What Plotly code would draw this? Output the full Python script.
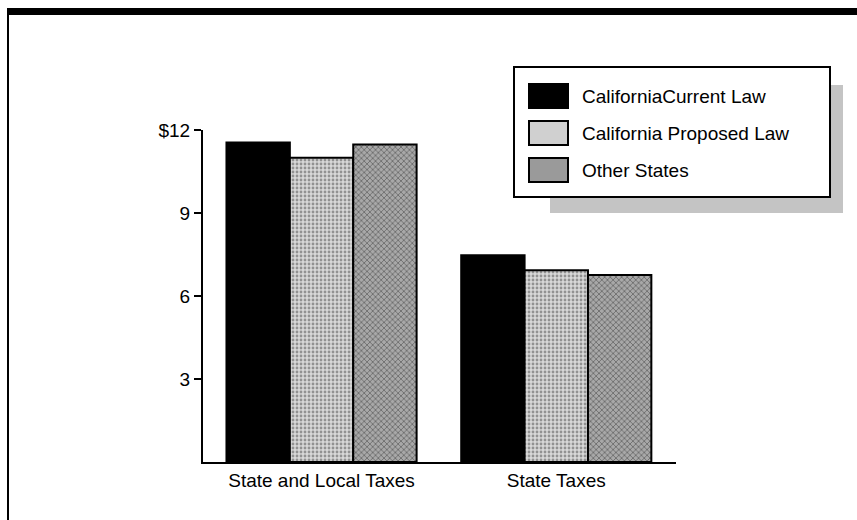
import plotly.graph_objects as go

categories = ["State and Local Taxes", "State Taxes"]
series_names = ["CaliforniaCurrent Law", "California Proposed Law", "Other States"]
ca_current = [11.55, 7.47]
ca_proposed = [11.0, 6.93]
other_states = [11.48, 6.76]
y_tickvals = [3, 6, 9, 12]
y_ticktext = ["3", "6", "9", "$12"]

W, H = 857, 520
L, R, T, B = 203, 181, 130, 58
PW, PH = W - L - R, H - T - B

def px(x):
    return (x - L) / PW

def py(y):
    return (H - B - y) / PH

styles = [
    dict(color="black", pattern=None),
    dict(color="#d6d6d6", pattern=dict(shape=".", fgcolor="#4a4a4a", bgcolor="#d8d8d8", size=4, solidity=0.4)),
    dict(color="#a0a0a0", pattern=dict(shape="x", fgcolor="#1e1e1e", bgcolor="#a8a8a8", size=4, solidity=0.35)),
]

fig = go.Figure()
for name, vals, st in zip(series_names, [ca_current, ca_proposed, other_states], styles):
    marker = dict(color=st["color"], line=dict(color="black", width=2))
    if st["pattern"]:
        marker["pattern"] = st["pattern"]
    fig.add_trace(go.Bar(x=categories, y=vals, name=name, marker=marker, showlegend=False))

shapes = []
# page frame: thick top rule and left rule
shapes.append(dict(type="rect", xref="paper", yref="paper", x0=px(7), x1=px(857), y0=py(15), y1=py(8),
                   fillcolor="black", line=dict(width=0), layer="above"))
shapes.append(dict(type="line", xref="paper", yref="paper", x0=px(8), x1=px(8), y0=py(8), y1=py(520),
                   line=dict(color="black", width=2)))
# legend shadow
shapes.append(dict(type="rect", xref="paper", yref="paper", x0=px(550), x1=px(843), y0=py(213), y1=py(85),
                   fillcolor="#c4c4c4", line=dict(width=0), layer="above"))
# legend box
shapes.append(dict(type="rect", xref="paper", yref="paper", x0=px(514), x1=px(830), y0=py(197), y1=py(67),
                   fillcolor="white", line=dict(color="black", width=2), layer="above"))
annotations = []
row_y = [96, 133, 170]
sw_fill = ["black", "#d0d0d0", "#9a9a9a"]
for name, ry, fc in zip(series_names, row_y, sw_fill):
    shapes.append(dict(type="rect", xref="paper", yref="paper", x0=px(529), x1=px(568), y0=py(ry + 12), y1=py(ry - 12),
                       fillcolor=fc, line=dict(color="black", width=2), layer="above"))
    annotations.append(dict(xref="paper", yref="paper", x=px(580), y=py(ry), text=name, showarrow=False,
                            xanchor="left", yanchor="middle", font=dict(size=19, color="black")))

fig.update_layout(
    width=W, height=H,
    margin=dict(l=L, r=R, t=T, b=B),
    paper_bgcolor="white", plot_bgcolor="white",
    font=dict(family="Liberation Sans, Arial, sans-serif", size=19, color="black"),
    barmode="group", bargap=0.19, bargroupgap=0,
    shapes=shapes, annotations=annotations,
    xaxis=dict(range=[-0.505, 1.51], showline=True, linecolor="black", linewidth=2, ticks="",
               showgrid=False, zeroline=False, fixedrange=True, tickfont=dict(size=19)),
    yaxis=dict(range=[0, 12], tickvals=y_tickvals, ticktext=y_ticktext, showline=True, linecolor="black",
               linewidth=2, ticks="outside", ticklen=7, tickwidth=2, tickcolor="black",
               showgrid=False, zeroline=False, fixedrange=True, tickfont=dict(size=19)),
)

fig.write_html("out.html")
